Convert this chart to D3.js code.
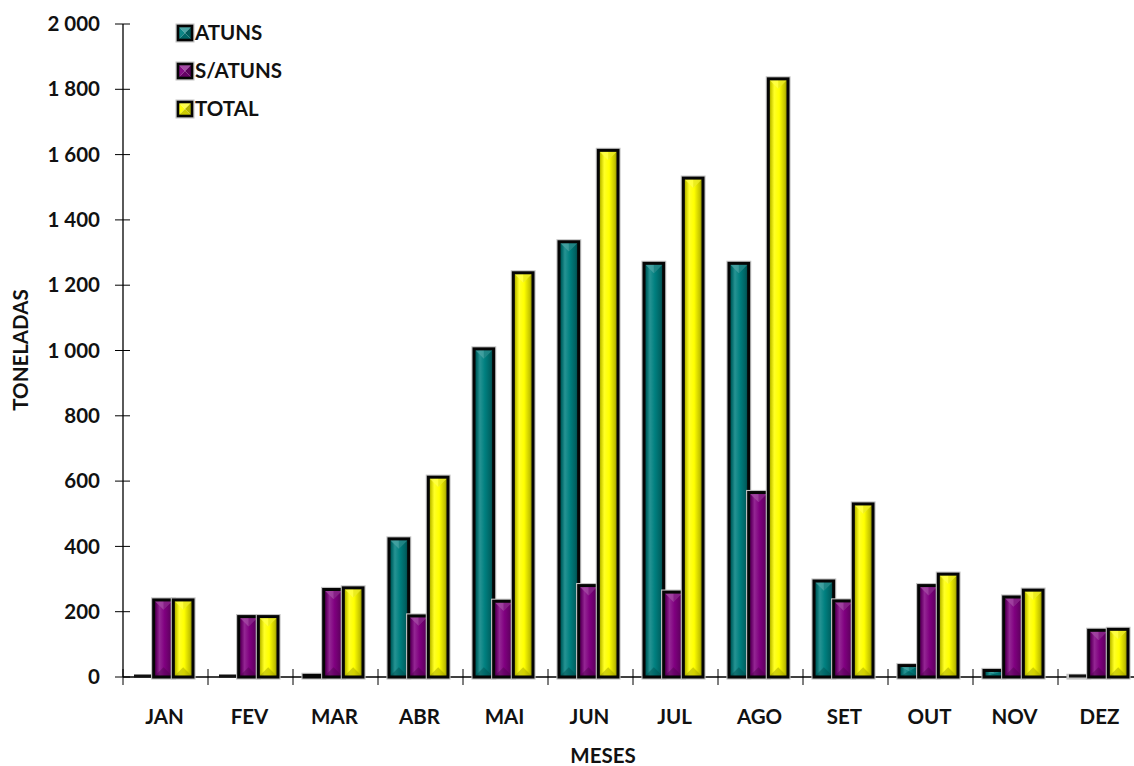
<!DOCTYPE html>
<html>
<head>
<meta charset="utf-8">
<script src="https://cdn.jsdelivr.net/npm/d3@7"></script>
<style>
  html, body { margin: 0; padding: 0; background: #fff; }
  svg { display: block; }
  text { font-family: Lato, "Open Sans", sans-serif; font-weight: 700; fill: #111; }
</style>
</head>
<body>
<svg id="chart" width="1134" height="766"></svg>
<script>
// Monthly landings (tonnes)
const months = ["JAN", "FEV", "MAR", "ABR", "MAI", "JUN", "JUL", "AGO", "SET", "OUT", "NOV", "DEZ"];
const seriesNames = ["ATUNS", "S/ATUNS", "TOTAL"];
const atuns   = [0, 0, 5, 423, 1005, 1333, 1267, 1267, 294, 35, 20, 2];
const sAtuns  = [236, 185, 268, 187, 232, 280, 260, 565, 233, 280, 245, 143];
const total   = [236, 185, 273, 612, 1238, 1613, 1528, 1832, 530, 315, 266, 146];
const yTicks  = [0, 200, 400, 600, 800, 1000, 1200, 1400, 1600, 1800, 2000];
const seriesColors = ["#008080", "#800080", "#ffff00"];

const values = [atuns, sAtuns, total];

const svg = d3.select("#chart");
const margin = { left: 123, top: 24, bottom: 677 };
const bandW = 85;
const fs = 20.5;

const x = d3.scaleBand().domain(months).range([margin.left, margin.left + bandW * months.length]);
const xs = d3.scaleBand().domain(seriesNames).range([11, 70]);
const y = d3.scaleLinear().domain([0, 2000]).range([margin.bottom, margin.top]);

const fmt = v => d3.format(",")(v).replace(/,/g, " ");

// shading helpers
function shade(c, k) {
  const h = d3.rgb(c);
  if (k >= 1) {
    const t = k - 1;
    return d3.rgb(h.r + (255 - h.r) * t, h.g + (255 - h.g) * t, h.b + (255 - h.b) * t).formatHex();
  }
  return d3.rgb(h.r * k, h.g * k, h.b * k).formatHex();
}

const defs = svg.append("defs");
seriesNames.forEach((s, i) => {
  const c = seriesColors[i];
  const g = defs.append("linearGradient").attr("id", "grad" + i)
    .attr("x1", "0").attr("x2", "1").attr("y1", "0").attr("y2", "0");
  [[0, shade(c, 0.55)], [0.14, shade(c, 0.8)], [0.3, shade(c, 1.15)], [0.55, c], [0.82, shade(c, 0.78)], [1, shade(c, 0.5)]]
    .forEach(([o, col]) => g.append("stop").attr("offset", o).attr("stop-color", col));
});

// axes
const axisG = svg.append("g");
axisG.append("line").attr("x1", margin.left).attr("x2", 1134)
  .attr("y1", y(0)).attr("y2", y(0)).attr("stroke", "#000").attr("stroke-width", 1.3);
axisG.append("line").attr("x1", margin.left).attr("x2", margin.left)
  .attr("y1", y(2000)).attr("y2", y(0)).attr("stroke", "#000").attr("stroke-width", 1.3);

// y ticks + labels
axisG.selectAll(".yt").data(yTicks).join("line")
  .attr("x1", margin.left - 8).attr("x2", margin.left + 7)
  .attr("y1", d => y(d)).attr("y2", d => y(d))
  .attr("stroke", "#000").attr("stroke-width", 1);
axisG.selectAll(".yl").data(yTicks).join("text")
  .attr("x", 100).attr("y", d => y(d)).attr("dy", "0.35em")
  .attr("text-anchor", "end").attr("font-size", fs)
  .text(fmt);

// x ticks at category boundaries
const bounds = months.map((m, i) => x(m)).concat([x(months[months.length - 1]) + bandW]);
axisG.selectAll(".xt").data(bounds).join("line")
  .attr("x1", d => d).attr("x2", d => d)
  .attr("y1", y(0) - 8).attr("y2", y(0) + 8)
  .attr("stroke", "#000").attr("stroke-width", 1);

axisG.selectAll(".xl").data(months).join("text")
  .attr("x", d => x(d) + bandW / 2 - 1).attr("y", 717).attr("dy", "0.35em")
  .attr("text-anchor", "middle").attr("font-size", fs)
  .text(d => d);

svg.append("text").attr("x", 603).attr("y", 756).attr("dy", "0.35em")
  .attr("text-anchor", "middle").attr("font-size", fs).text("MESES");
svg.append("text").attr("transform", "translate(21,350) rotate(-90)").attr("dy", "0.35em")
  .attr("text-anchor", "middle").attr("font-size", fs).text("TONELADAS");

// bars
const bars = [];
months.forEach((m, mi) => {
  seriesNames.forEach((s, si) => {
    bars.push({ m, s, si, v: values[si][mi] });
  });
});

const barG = svg.append("g");
const bw = xs.bandwidth();
bars.forEach(d => {
  const x0 = x(d.m) + xs(d.s);
  const y0 = y(d.v), y1 = y(0);
  const h = y1 - y0;
  const c = seriesColors[d.si];
  const g = barG.append("g");
  // soft grey halo around the outline
  g.append("rect").attr("x", x0).attr("y", y0).attr("width", bw).attr("height", h)
    .attr("fill", "none").attr("stroke", "#c4c4c4").attr("stroke-width", 5.2);
  if (h < 1) {
    g.append("line").attr("x1", x0).attr("x2", x0 + bw).attr("y1", y1 - 1).attr("y2", y1 - 1)
      .attr("stroke", "#111").attr("stroke-width", 3);
    return;
  }
  g.append("rect").attr("x", x0).attr("y", y0).attr("width", bw).attr("height", h)
    .attr("fill", "url(#grad" + d.si + ")");
  if (h > 6) {
    const bev = Math.min(bw / 2, h / 2);
    // top bevel (lit)
    g.append("path")
      .attr("d", `M${x0},${y0} L${x0 + bw},${y0} L${x0 + bw / 2},${y0 + bev} Z`)
      .attr("fill", shade(c, 1.3)).attr("opacity", 0.75);
    g.append("path")
      .attr("d", `M${x0 + bw / 2},${y0} L${x0 + bw},${y0} L${x0 + bw / 2},${y0 + bev} Z`)
      .attr("fill", shade(c, 0.85)).attr("opacity", 0.45);
    // bottom bevel (shaded)
    g.append("path")
      .attr("d", `M${x0},${y1} L${x0 + bw},${y1} L${x0 + bw / 2},${y1 - bev} Z`)
      .attr("fill", shade(c, 0.6)).attr("opacity", 0.45);
  }
  g.append("rect").attr("x", x0).attr("y", y0).attr("width", bw).attr("height", h)
    .attr("fill", "none").attr("stroke", "#050505").attr("stroke-width", 3);
});

// legend
const legend = svg.append("g");
const legY = [33, 71, 109];
seriesNames.forEach((s, i) => {
  const c = seriesColors[i];
  const lx = 178, ly = legY[i] - 7, sz = 14;
  const cx = lx + sz / 2, cy = ly + sz / 2;
  const g = legend.append("g");
  g.append("rect").attr("x", lx).attr("y", ly).attr("width", sz).attr("height", sz)
    .attr("fill", "none").attr("stroke", "#c4c4c4").attr("stroke-width", 5);
  const tris = [
    [[lx, ly], [lx + sz, ly], [cx, cy], shade(c, 1.3)],
    [[lx, ly], [lx, ly + sz], [cx, cy], shade(c, 1.05)],
    [[lx + sz, ly], [lx + sz, ly + sz], [cx, cy], shade(c, 0.7)],
    [[lx, ly + sz], [lx + sz, ly + sz], [cx, cy], shade(c, 0.8)]
  ];
  tris.forEach(t => g.append("path").attr("d", `M${t[0]}L${t[1]}L${t[2]}Z`).attr("fill", t[3]));
  g.append("rect").attr("x", lx).attr("y", ly).attr("width", sz).attr("height", sz)
    .attr("fill", "none").attr("stroke", "#050505").attr("stroke-width", 2.6);
  g.append("text").attr("x", 195).attr("y", legY[i]).attr("dy", "0.35em")
    .attr("font-size", fs).text(s);
});
</script>
</body>
</html>
